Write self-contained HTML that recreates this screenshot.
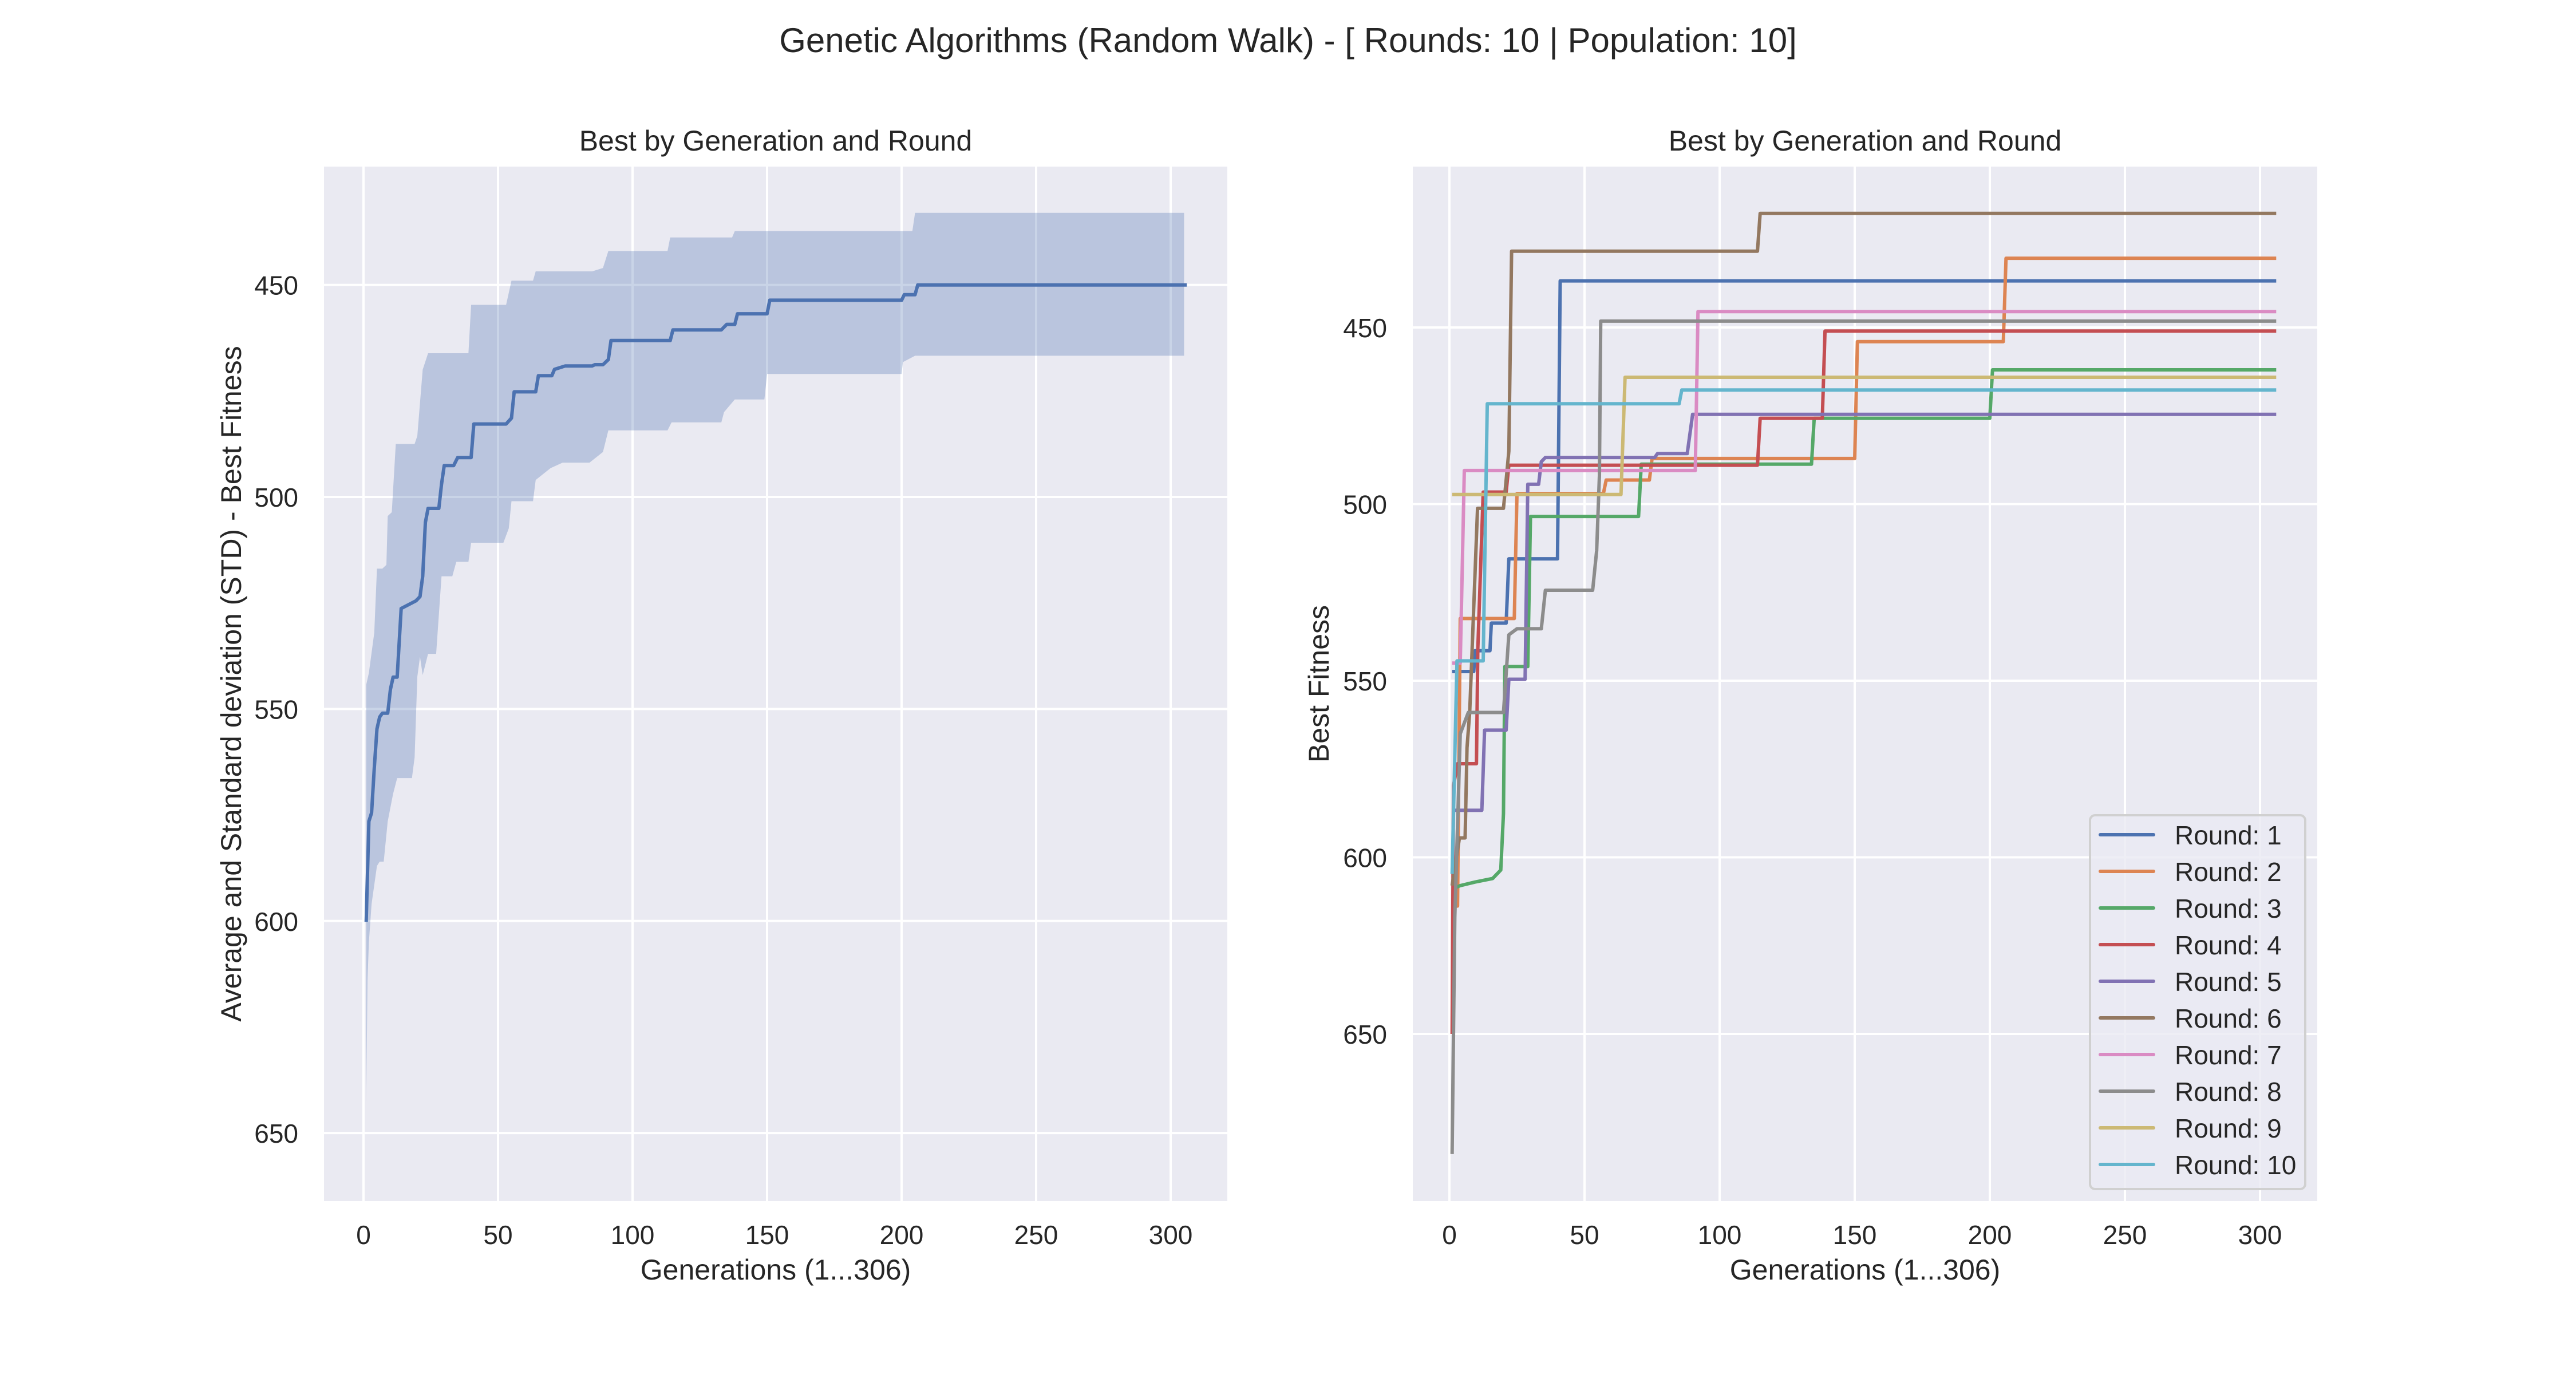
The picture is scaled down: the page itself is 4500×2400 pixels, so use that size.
<!DOCTYPE html>
<html><head><meta charset="utf-8">
<style>
html,body{margin:0;padding:0;background:#fff;}
svg{display:block;font-family:"Liberation Sans",Arial,sans-serif;}
</style></head>
<body>
<svg id="fig" width="4500" height="2400" viewBox="0 0 4500 2400" xmlns="http://www.w3.org/2000/svg">
<rect width="4500" height="2400" fill="#ffffff"/>
<text x="2250" y="91" font-size="60" text-anchor="middle" fill="#262626">Genetic Algorithms (Random Walk) - [ Rounds: 10 | Population: 10]</text>
<g id="left"></g>
<g id="right"></g>
</svg>
<script>
// ---- Left chart data ----
const meanGens = [1,2,3,4,5,6,7,9,10,11,12.5,14,19.5,21,22,23,24,28,29,30,33.5,35,40,41,53,55,56,64,65,70,71,75,85,86,89,91,92,114,115,133,135,138,139,150,151,200,201,205,206,306];
const meanVals = [600.2,576.5,574.5,564,554.7,551.9,551,551,545.4,542.5,542.5,526.3,524.5,523.5,518.7,506,502.7,502.7,497,492.6,492.6,490.7,490.7,482.8,482.8,481.4,475.2,475.2,471.4,471.4,469.9,469.1,469.1,468.8,468.8,467.6,463.1,463.1,460.6,460.6,459.3,459.3,456.8,456.8,453.6,453.6,452.3,452.3,450,450];
const bandTopGens = [1,2,4,5,7,8.5,9,10.5,12,16,19,20,22,24,39,40,53,55,63,64,85,89,91,113,114,137,138,204,205,305];
const bandTopVals = [544.3,541.5,532,516.9,516.9,516,504.5,503.6,487.5,487.5,487.5,485.6,470,466.1,466.1,454.7,454.7,449,449,446.8,446.8,446,442,442,438.8,438.8,437.3,437.3,433,433];
const bandBotGens = [1,1.5,2,3,5,6,7.5,9,11,12.5,18,19,20,21,22,24,27,29,33,34.5,39,40,52,54,55,63,64,69.5,74,84,89,91,113,114.5,133,134,138,149,150,200,200.5,205,305];
const bandBotVals = [643,614,605,596,587,586,586,576.5,570,566.3,566.3,561.4,542.4,537.7,542,537,537,518.7,518.7,515.3,515.3,510.8,510.8,507.4,501,501,496,493.2,491.9,491.9,489.4,484.3,484.3,482.4,482.4,480,477,477,471,471,468.2,466.7,466.7];
const xTicks = [0,50,100,150,200,250,300];
const leftYTicks = [450,500,550,600,650];
const rightYTicks = [450,500,550,600,650];

// ---- Right chart data (per round) ----
const roundNames = ["Round: 1","Round: 2","Round: 3","Round: 4","Round: 5","Round: 6","Round: 7","Round: 8","Round: 9","Round: 10"];
const r1Gens=[1,9,9.5,15,15.5,21,22,40,41,306];
const r1Vals=[547.4,547.4,541.5,541.5,533.7,533.7,515.5,515.5,436.8,436.8];
const r2Gens=[1,3,4,24,25,57,58,74,75,150,151,205,206,306];
const r2Vals=[613.8,613.8,532.4,532.4,497,497,493.2,493.2,487.1,487.1,454,454,430.4,430.4];
const r3Gens=[1,4,9.5,16,19,20,20.5,29,30,70,71,134,135,200,201,306];
const r3Vals=[609,608,607,606,603.6,587.6,546,546,503.5,503.5,488.7,488.7,475.7,475.7,462,462];
const r4Gens=[1,1.5,3,10,10.5,12.5,21,22,114,115,138,139,306];
const r4Vals=[650,579.7,573.5,573.5,541,496.6,496.6,489,489,475.7,475.7,451,451];
const r5Gens=[1,12,13,21,22,28,29,33,34,35.5,76,77,88,90,306];
const r5Vals=[586.7,586.7,564,564,549.6,549.6,494.4,494.4,488,486.8,486.8,485.7,485.7,474.6,474.6];
const r6Gens=[1,3.7,5.8,6.5,7.5,10.4,20,21,22,23,114,115,306];
const r6Vals=[608,594.5,594.5,569,559,501.2,501.2,493.2,485,428.4,428.4,417.7,417.7];
const r7Gens=[1,4,5.5,91,92,306];
const r7Vals=[545,545,490.5,490.5,445.5,445.5];
const r8Gens=[1,2,4,7,20,22,25,34,35.5,53,54.5,55.5,56,306];
const r8Vals=[684,617,565,559,559,537,535.3,535.3,524.4,524.4,513.2,492,448.2,448.2];
const r9Gens=[1,63.5,65,306];
const r9Vals=[497.3,497.3,464.1,464.1];
const r10Gens=[1,2.8,12.5,14,85,86,306];
const r10Vals=[604.7,544.4,544.4,471.6,471.6,467.7,467.7];
const roundGens=[r1Gens,r2Gens,r3Gens,r4Gens,r5Gens,r6Gens,r7Gens,r8Gens,r9Gens,r10Gens];
const roundVals=[r1Vals,r2Vals,r3Vals,r4Vals,r5Vals,r6Vals,r7Vals,r8Vals,r9Vals,r10Vals];
const colors=["#4c72b0","#dd8452","#55a868","#c44e52","#8172b3","#937860","#da8bc3","#8c8c8c","#ccb974","#64b5cd"];

const NS="http://www.w3.org/2000/svg";
function mk(parent,tag,attrs,text){const e=document.createElementNS(NS,tag);for(const k in attrs)e.setAttribute(k,attrs[k]);if(text!==undefined)e.textContent=text;parent.appendChild(e);return e;}

function axes(g,box,yLabel,yLabelX){
  const sx=v=>box.x0tick+v*box.pxg;
  const sy=v=>box.yref+(v-450)*box.pxv;
  const bg=mk(g,'rect',{x:box.x0,y:box.y0,width:box.x1-box.x0,height:box.y1-box.y0,fill:'#eaeaf2'});
  
  
  xTicks.forEach(t=>{
    const l=mk(g,'line',{x1:sx(t),x2:sx(t),y1:box.y0,y2:box.y1,stroke:'#fff','stroke-width':4});
    
    
    const tx=mk(g,'text',{x:sx(t),y:box.y1+75,'font-size':46,'text-anchor':'middle',fill:'#262626'},String(t));
    
    
  });
  box.yt.forEach(t=>{
    const l=mk(g,'line',{x1:box.x0,x2:box.x1,y1:sy(t),y2:sy(t),stroke:'#fff','stroke-width':4});
    
    
    const tx=mk(g,'text',{x:box.x0-45,y:sy(t)+17,'font-size':46,'text-anchor':'end',fill:'#262626'},String(t));
    
    
  });
  const xl=mk(g,'text',{x:(box.x0+box.x1)/2,y:box.y1+137,'font-size':50,'text-anchor':'middle',fill:'#262626'},'Generations (1...306)');
  
  
  const cy=(box.y0+box.y1)/2;
  const yl=mk(g,'text',{x:yLabelX,y:cy,'font-size':50,'text-anchor':'middle',fill:'#262626',transform:`rotate(-90 ${yLabelX} ${cy})`,dy:'17'},yLabel);
  
  
  const st=mk(g,'text',{x:(box.x0+box.x1)/2,y:box.y0-28,'font-size':50,'text-anchor':'middle',fill:'#262626'},'Best by Generation and Round');
  
  
  return {sx,sy};
}

// Left chart
const L=document.getElementById('left');
const lb={x0:566,x1:2144,y0:291,y1:2098,x0tick:635,pxg:4.70,yref:497.7,pxv:7.407,yt:leftYTicks};
const ls=axes(L,lb,'Average and Standard deviation (STD) - Best Fitness',404);
let pts=[];
bandTopGens.forEach((g,i)=>pts.push(ls.sx(g).toFixed(1)+','+ls.sy(bandTopVals[i]).toFixed(1)));
for(let i=bandBotGens.length-1;i>=0;i--)pts.push(ls.sx(bandBotGens[i]).toFixed(1)+','+ls.sy(bandBotVals[i]).toFixed(1));
const band=mk(L,'polygon',{points:pts.join(' '),fill:'#4c72b0','fill-opacity':0.3});


const mline=mk(L,'polyline',{points:meanGens.map((g,i)=>ls.sx(g).toFixed(1)+','+ls.sy(meanVals[i]).toFixed(1)).join(' '),fill:'none',stroke:'#4c72b0','stroke-width':6,'stroke-linejoin':'round'});



// Right chart
const R=document.getElementById('right');
const rb={x0:2468,x1:4048,y0:291,y1:2098,x0tick:2532,pxg:4.72,yref:572,pxv:6.17,yt:rightYTicks};
const rs=axes(R,rb,'Best Fitness',2304);
roundGens.forEach((gs,k)=>{
  const p=mk(R,'polyline',{points:gs.map((g,i)=>rs.sx(g).toFixed(1)+','+rs.sy(roundVals[k][i]).toFixed(1)).join(' '),fill:'none',stroke:colors[k],'stroke-width':6,'stroke-linejoin':'round'});
  
  
});
// Legend
const lg=mk(R,'g',{});


mk(lg,'rect',{x:3651,y:1424,width:376,height:653,rx:9,fill:'#eaeaf2','fill-opacity':0.8,stroke:'#d0d0d0','stroke-width':4});
roundNames.forEach((n,k)=>{
  const y=1458+k*64;
  const e=mk(lg,'g',{});
  
  
  mk(e,'line',{x1:3669,x2:3762,y1:y,y2:y,stroke:colors[k],'stroke-width':6,'stroke-linecap':'round'});
  mk(e,'text',{x:3799,y:y+17,'font-size':46,fill:'#262626'},n);
});
</script>
</body></html>
